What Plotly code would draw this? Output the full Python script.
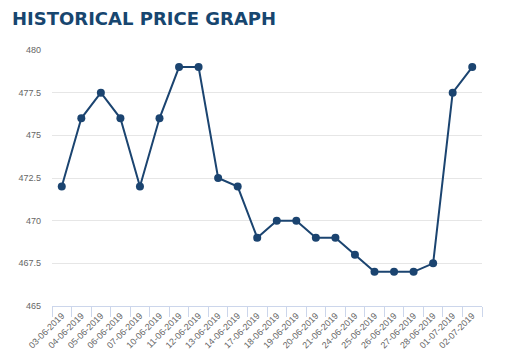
import plotly.graph_objects as go

dates = ["03-06-2019", "04-06-2019", "05-06-2019", "06-06-2019", "07-06-2019",
         "10-06-2019", "11-06-2019", "12-06-2019", "13-06-2019", "14-06-2019",
         "17-06-2019", "18-06-2019", "19-06-2019", "20-06-2019", "21-06-2019",
         "24-06-2019", "25-06-2019", "26-06-2019", "27-06-2019", "28-06-2019",
         "01-07-2019", "02-07-2019"]
prices = [472, 476, 477.5, 476, 472, 476, 479, 479, 472.5, 472,
          469, 470, 470, 469, 469, 468, 467, 467, 467, 467.5,
          477.5, 479]
y_ticks = [465, 467.5, 470, 472.5, 475, 477.5, 480]
y_tick_labels = ["465", "467.5", "470", "472.5", "475", "477.5", "480"]

line_color = "#1b4470"

# page body has an 8px default margin, so the figure is sized/offset for it
W, H = 506, 352

fig = go.Figure(go.Scatter(
    x=dates, y=prices, mode="lines+markers",
    line=dict(color=line_color, width=2),
    marker=dict(color=line_color, size=8),
    hoverinfo="x+y",
))

fig.update_layout(
    width=W, height=H,
    margin=dict(l=44, r=32, t=42, b=54, autoexpand=False),
    paper_bgcolor="white", plot_bgcolor="white",
    showlegend=False,
    title=dict(
        text="HISTORICAL PRICE GRAPH",
        font=dict(family="DejaVu Sans", size=18, color="#17466f", weight="bold"),
        x=4 / W, xanchor="left", xref="container",
        y=1 - 10.5 / H, yanchor="middle", yref="container",
    ),
    font=dict(family="Liberation Sans, Arial, sans-serif", size=9, color="#666666"),
)

fig.update_xaxes(
    type="category",
    range=[-0.5, len(dates) - 0.5],
    tickangle=-45,
    tickson="boundaries",
    ticks="outside", ticklen=10, tickcolor="#ccd6eb", tickwidth=1,
    showline=True, linecolor="#ccd6eb", linewidth=1,
    showgrid=False, zeroline=False,
    tickfont=dict(size=9, color="#666666"),
)
fig.update_yaxes(
    range=[465, 480],
    tickvals=y_ticks, ticktext=y_tick_labels,
    showgrid=True, gridcolor="#e6e6e6", gridwidth=1,
    zeroline=False, showline=False,
    ticks="", ticklabelstandoff=10,
    tickfont=dict(size=9, color="#666666"),
)

fig.write_html("out.html")
